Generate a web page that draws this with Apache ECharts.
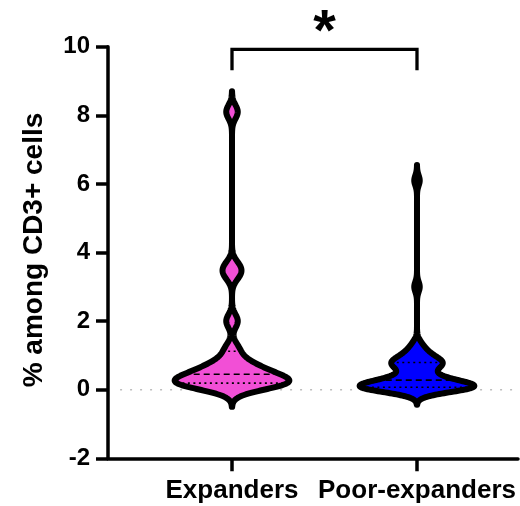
<!DOCTYPE html>
<html>
<head>
<meta charset="utf-8">
<script src="https://cdn.jsdelivr.net/npm/echarts@6/dist/echarts.min.js"></script>
<style>
  html, body { margin: 0; padding: 0; background: #fff; }
  #chart { width: 520px; height: 506px; }
</style>
</head>
<body>
<div id="chart"></div>
<script>
// Groups and their measured values (% among CD3+ cells)
const categories = ['Expanders', 'Poor-expanders'];
const expanders = [0.1, 0.13, 0.15, 0.17, 0.19, 0.2, 0.25, 0.3, 0.36, 0.42,
                   0.48, 0.55, 0.63, 0.72, 0.88, 1.2, 2.0, 3.35, 3.6, 8.1];
const poorExpanders = [0.01, 0.02, 0.02, 0.03, 0.03, 0.04, 0.05, 0.05, 0.06, 0.07, 0.07,
                       0.08, 0.09, 0.1, 0.11, 0.13, 0.15, 0.17, 0.19, 0.21, 0.24, 0.27,
                       0.29, 0.32, 0.36, 0.4, 0.47, 0.56, 0.64, 0.68, 0.71, 0.74, 0.77,
                       0.8, 0.83, 0.86, 0.89, 0.93, 1.03, 1.1, 1.18, 1.35, 3.0, 6.1];
const groups = [expanders, poorExpanders];
const bandwidths = [0.2, 0.15];          // kernel smoothing per group
const fills = ['#F24FD6', '#0000FF'];
const yTicks = [-2, 0, 2, 4, 6, 8, 10];
const significance = '*';
const bracketTop = 9.92;
const bracketFoot = 9.31;
const starLevel = 10.36;

const FONT = '"Liberation Sans", Arial, Helvetica, sans-serif';
const HALF_WIDTH = 0.31;                 // widest point of each violin, in category units

// Gaussian kernel density, evaluated from min-3h to max+3h
function density(values, h) {
  const lo = Math.min(...values) - 3 * h;
  const hi = Math.max(...values) + 3 * h;
  const steps = 600;
  const out = [];
  for (let k = 0; k <= steps; k++) {
    const v = lo + (hi - lo) * k / steps;
    let s = 0;
    for (const x of values) {
      const u = (v - x) / h;
      s += Math.exp(-0.5 * u * u);
    }
    out.push([v, s]);
  }
  const peak = Math.max(...out.map(d => d[1]));
  return out.map(d => [d[0], d[1] / peak * HALF_WIDTH]);
}

function quantile(values, p) {
  const s = values.slice().sort((a, b) => a - b);
  const n = s.length;
  const pos = p * (n + 1);
  const i = Math.floor(pos);
  const f = pos - i;
  if (i < 1) return s[0];
  if (i >= n) return s[n - 1];
  return s[i - 1] + f * (s[i] - s[i - 1]);
}

function widthAt(profile, v) {
  for (let k = 1; k < profile.length; k++) {
    if (profile[k][0] >= v) {
      const a = profile[k - 1], b = profile[k];
      const t = (v - a[0]) / (b[0] - a[0]);
      return a[1] + t * (b[1] - a[1]);
    }
  }
  return 0;
}

const profiles = groups.map((g, i) => density(g, bandwidths[i]));
const stats = groups.map(g => [quantile(g, 0.25), quantile(g, 0.5), quantile(g, 0.75)]);

function renderViolin(params, api) {
  const gi = api.value(0);
  const center = gi + 1;
  const prof = profiles[gi];
  const pts = [];
  prof.forEach(d => pts.push(api.coord([center - d[1], d[0]])));
  for (let k = prof.length - 1; k >= 0; k--) pts.push(api.coord([center + prof[k][1], prof[k][0]]));

  const children = [{
    type: 'polygon', shape: { points: pts },
    style: { fill: fills[gi], stroke: 'none' }
  }];
  const [q1, med, q3] = stats[gi];
  [[q1, [2, 3.5]], [med, [6, 4]], [q3, [2, 3.5]]].forEach(([q, dash]) => {
    const w = widthAt(prof, q);
    const a = api.coord([center - w, q]);
    const b = api.coord([center + w, q]);
    children.push({
      type: 'line', shape: { x1: a[0], y1: a[1], x2: b[0], y2: b[1] },
      style: { stroke: '#000', lineWidth: 1.6, lineDash: dash }
    });
  });
  children.push({
    type: 'polygon', shape: { points: pts },
    style: { fill: 'none', stroke: '#000', lineWidth: 6, lineJoin: 'round' }
  });
  return { type: 'group', children };
}

function renderBracket(params, api) {
  const p1 = api.coord([1, bracketFoot]);
  const p2 = api.coord([1, bracketTop]);
  const p3 = api.coord([2, bracketTop]);
  const p4 = api.coord([2, bracketFoot]);
  const s = api.coord([1.5, starLevel]);
  return {
    type: 'group',
    children: [
      { type: 'polyline', shape: { points: [p1, p2, p3, p4] },
        style: { fill: 'none', stroke: '#000', lineWidth: 3.3 } },
      { type: 'text', x: s[0], y: s[1],
        style: { text: significance, font: 'bold 58px ' + FONT, fill: '#000',
                 align: 'center', verticalAlign: 'middle' } }
    ]
  };
}

const chart = echarts.init(document.getElementById('chart'), null, { renderer: 'canvas' });
chart.setOption({
  animation: false,
  backgroundColor: '#fff',
  grid: { left: 108, right: 2, top: 46.7, bottom: 47.7 },
  xAxis: {
    type: 'value', min: 0.3297, max: 2.546,
    splitLine: { show: false },
    axisLine: { onZero: false, lineStyle: { color: '#000', width: 3.5 } },
    axisTick: { customValues: [1, 2], length: 13, lineStyle: { color: '#000', width: 3.5 } },
    axisLabel: {
      customValues: [1, 2], margin: 20,
      formatter: v => categories[Math.round(v) - 1] || '',
      color: '#000', fontSize: 26, fontWeight: 'bold', fontFamily: FONT
    }
  },
  yAxis: {
    type: 'value', min: yTicks[0], max: yTicks[yTicks.length - 1], interval: 2,
    splitLine: { show: false },
    axisLine: { show: true, onZero: false, lineStyle: { color: '#000', width: 3.5 } },
    axisTick: { show: true, length: 12, lineStyle: { color: '#000', width: 3.5 } },
    axisLabel: { margin: 18, color: '#000', fontSize: 24, fontWeight: 'bold', fontFamily: FONT }
  },
  graphic: [{
    type: 'text', x: 34, y: 250, rotation: Math.PI / 2,
    style: { text: '% among CD3+ cells', font: 'bold 28px ' + FONT, fill: '#000',
             align: 'center', verticalAlign: 'middle' }
  }],
  series: [
    {
      type: 'line', data: [[0.395, 0], [2.546, 0]], showSymbol: false, z: 1,
      lineStyle: { color: '#bdbdbd', width: 1.5, type: [2, 8] }, silent: true
    },
    {
      type: 'custom', data: [[0], [1]], renderItem: renderViolin, z: 3, clip: false
    },
    {
      type: 'custom', data: [[0]], renderItem: renderBracket, z: 3, clip: false
    }
  ]
});
</script>
</body>
</html>
